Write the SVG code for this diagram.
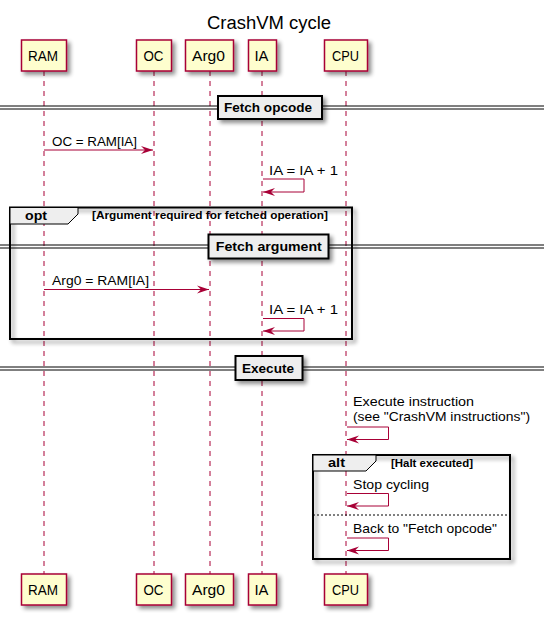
<svg xmlns="http://www.w3.org/2000/svg" width="544" height="618" viewBox="0 0 544 618">
  <defs>
    <filter id="shadow" x="-20%" y="-20%" width="150%" height="160%">
      <feGaussianBlur in="SourceAlpha" stdDeviation="2"/>
      <feOffset dx="3" dy="3" result="b"/>
      <feComponentTransfer><feFuncA type="linear" slope="0.45"/></feComponentTransfer>
      <feMerge><feMergeNode/><feMergeNode in="SourceGraphic"/></feMerge>
    </filter>
    <marker id="head" viewBox="0 0 12 10" refX="12" refY="5" markerWidth="12" markerHeight="10" markerUnits="userSpaceOnUse" orient="auto">
      <polygon points="0,1 12,5 0,9 4,5" fill="#A80036"/>
    </marker>
  </defs>
  <style>
    text { font-family: "Liberation Sans", Arial, sans-serif; fill: #000; }
    .title { font-size: 18px; }
    .plabel { font-size: 14px; text-anchor: middle; }
    .msg { font-size: 13px; }
    .bold { font-weight: bold; }
    .sep { font-size: 13px; font-weight: bold; text-anchor: middle; }
    .cond { font-size: 11px; font-weight: bold; }
    .part { fill: #FEFECE; stroke: #A80036; stroke-width: 1.5; filter: url(#shadow); }
    .life { stroke: #A80036; stroke-width: 1; stroke-dasharray: 5,5; fill: none; }
    .arrow { stroke: #A80036; stroke-width: 1; fill: none; marker-end: url(#head); }
    .frame { fill: none; stroke: #000; stroke-width: 2; filter: url(#shadow); }
    .tab { fill: #EEEEEE; stroke: #000; stroke-width: 1; }
    .sepbox { fill: #EEEEEE; stroke: #000; stroke-width: 2; filter: url(#shadow); }
    .sepline { stroke: #000; stroke-width: 1; }
  </style>

  <text class="title" x="269" y="29" text-anchor="middle" textLength="124" lengthAdjust="spacingAndGlyphs">CrashVM cycle</text>

  <!-- lifelines -->
  <g id="lifelines">
    <line class="life" x1="44" y1="71" x2="44" y2="574"/>
    <line class="life" x1="154" y1="71" x2="154" y2="574"/>
    <line class="life" x1="210" y1="71" x2="210" y2="574"/>
    <line class="life" x1="262" y1="71" x2="262" y2="574"/>
    <line class="life" x1="346" y1="71" x2="346" y2="574"/>
  </g>

  <!-- participants, head and foot -->
  <g id="RAM">
    <rect class="part" x="21.5" y="40" width="45" height="31"/>
    <text class="plabel" x="43" y="61" textLength="30" lengthAdjust="spacingAndGlyphs">RAM</text>
    <rect class="part" x="21.5" y="574" width="45" height="31"/>
    <text class="plabel" x="43" y="595" textLength="30" lengthAdjust="spacingAndGlyphs">RAM</text>
  </g>
  <g id="OC">
    <rect class="part" x="136.5" y="40" width="35" height="31"/>
    <text class="plabel" x="153.5" y="61" textLength="20" lengthAdjust="spacingAndGlyphs">OC</text>
    <rect class="part" x="136.5" y="574" width="35" height="31"/>
    <text class="plabel" x="153.5" y="595" textLength="20" lengthAdjust="spacingAndGlyphs">OC</text>
  </g>
  <g id="Arg0">
    <rect class="part" x="185.5" y="40" width="48" height="31"/>
    <text class="plabel" x="208.5" y="61" textLength="33" lengthAdjust="spacingAndGlyphs">Arg0</text>
    <rect class="part" x="185.5" y="574" width="48" height="31"/>
    <text class="plabel" x="208.5" y="595" textLength="33" lengthAdjust="spacingAndGlyphs">Arg0</text>
  </g>
  <g id="IA">
    <rect class="part" x="248.5" y="40" width="28" height="31"/>
    <text class="plabel" x="261.5" y="61" textLength="14" lengthAdjust="spacingAndGlyphs">IA</text>
    <rect class="part" x="248.5" y="574" width="28" height="31"/>
    <text class="plabel" x="261.5" y="595" textLength="14" lengthAdjust="spacingAndGlyphs">IA</text>
  </g>
  <g id="CPU">
    <rect class="part" x="324.5" y="40" width="43" height="31"/>
    <text class="plabel" x="345.5" y="61" textLength="27" lengthAdjust="spacingAndGlyphs">CPU</text>
    <rect class="part" x="324.5" y="574" width="43" height="31"/>
    <text class="plabel" x="345.5" y="595" textLength="27" lengthAdjust="spacingAndGlyphs">CPU</text>
  </g>

  <!-- separator: Fetch opcode -->
  <g id="sep-fetch-opcode">
    <line class="sepline" x1="0" y1="106" x2="544" y2="106"/>
    <line class="sepline" x1="0" y1="109" x2="544" y2="109"/>
    <rect class="sepbox" x="218" y="96" width="104" height="23"/>
    <text class="sep" x="268" y="112" textLength="88" lengthAdjust="spacingAndGlyphs">Fetch opcode</text>
  </g>

  <!-- opt fragment -->
  <g id="opt-fragment">
    <rect class="frame" x="10" y="207.5" width="342" height="131.5"/>
    <path class="tab" d="M10,207.5 L78,207.5 L78,214 L68,224 L10,224 Z"/>
    <text class="msg bold" x="25" y="220" textLength="22" lengthAdjust="spacingAndGlyphs">opt</text>
    <text class="cond" x="92" y="219" textLength="236" lengthAdjust="spacingAndGlyphs">[Argument required for fetched operation]</text>
  </g>

  <!-- separator: Fetch argument -->
  <g id="sep-fetch-argument">
    <line class="sepline" x1="0" y1="245" x2="544" y2="245"/>
    <line class="sepline" x1="0" y1="248" x2="544" y2="248"/>
    <rect class="sepbox" x="208.5" y="234.5" width="120" height="24"/>
    <text class="sep" x="268.8" y="251" textLength="106" lengthAdjust="spacingAndGlyphs">Fetch argument</text>
  </g>

  <!-- separator: Execute -->
  <g id="sep-execute">
    <line class="sepline" x1="0" y1="367" x2="544" y2="367"/>
    <line class="sepline" x1="0" y1="370" x2="544" y2="370"/>
    <rect class="sepbox" x="235.5" y="356" width="67" height="24"/>
    <text class="sep" x="268" y="373" textLength="52" lengthAdjust="spacingAndGlyphs">Execute</text>
  </g>

  <!-- alt fragment -->
  <g id="alt-fragment">
    <rect class="frame" x="313" y="455" width="197" height="104"/>
    <path class="tab" d="M313,455 L376,455 L376,461 L366,471 L313,471 Z"/>
    <text class="msg bold" x="328" y="467" textLength="17" lengthAdjust="spacingAndGlyphs">alt</text>
    <text class="cond" x="391" y="466.5" textLength="82" lengthAdjust="spacingAndGlyphs">[Halt executed]</text>
    <line x1="313" y1="515" x2="510" y2="515" stroke="#000" stroke-width="1" stroke-dasharray="2,2"/>
  </g>

  <!-- messages -->
  <g id="connectors">
    <line class="arrow" x1="44" y1="150" x2="153" y2="150"/>
    <polyline class="arrow" points="263,179 304,179 304,192 263,192"/>
    <line class="arrow" x1="44" y1="289.5" x2="209" y2="289.5"/>
    <polyline class="arrow" points="263,318.5 304,318.5 304,331 263,331"/>
    <polyline class="arrow" points="347,427 388.5,427 388.5,439.5 347,439.5"/>
    <polyline class="arrow" points="347,493.5 388.5,493.5 388.5,506 347,506"/>
    <polyline class="arrow" points="347,538 388.5,538 388.5,550.5 347,550.5"/>
  </g>

  <g id="labels">
    <text class="msg" x="52" y="146" textLength="85" lengthAdjust="spacingAndGlyphs">OC = RAM[IA]</text>
    <text class="msg" x="269" y="175" textLength="69" lengthAdjust="spacingAndGlyphs">IA = IA + 1</text>
    <text class="msg" x="52" y="285" textLength="97" lengthAdjust="spacingAndGlyphs">Arg0 = RAM[IA]</text>
    <text class="msg" x="269" y="313.5" textLength="69" lengthAdjust="spacingAndGlyphs">IA = IA + 1</text>
    <text class="msg" x="353" y="406" textLength="121" lengthAdjust="spacingAndGlyphs">Execute instruction</text>
    <text class="msg" x="353" y="421" textLength="177" lengthAdjust="spacingAndGlyphs">(see "CrashVM instructions")</text>
    <text class="msg" x="353" y="488.5" textLength="76" lengthAdjust="spacingAndGlyphs">Stop cycling</text>
    <text class="msg" x="353" y="533" textLength="144" lengthAdjust="spacingAndGlyphs">Back to "Fetch opcode"</text>
  </g>
</svg>
